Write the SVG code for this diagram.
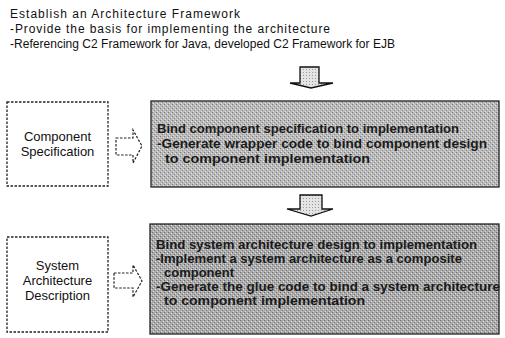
<svg xmlns="http://www.w3.org/2000/svg" width="505" height="338" viewBox="0 0 505 338">
<defs>
<pattern id="tex" width="4" height="4" patternUnits="userSpaceOnUse">
<rect width="4" height="4" fill="#bababa"/>
<rect x="0" y="0" width="1" height="1" fill="#7a7a7a"/>
<rect x="2" y="2" width="1" height="1" fill="#8a8a8a"/>
<rect x="3" y="1" width="1" height="1" fill="#e6e6e6"/>
<rect x="1" y="3" width="1" height="1" fill="#dddddd"/>
</pattern>
<pattern id="tex2" width="4" height="4" patternUnits="userSpaceOnUse">
<rect width="4" height="4" fill="#ababab"/>
<rect x="0" y="0" width="1" height="1" fill="#6a6a6a"/>
<rect x="2" y="2" width="1" height="1" fill="#7a7a7a"/>
<rect x="3" y="1" width="1" height="1" fill="#e0e0e0"/>
<rect x="1" y="3" width="1" height="1" fill="#d6d6d6"/>
</pattern>
<pattern id="texl" width="3" height="3" patternUnits="userSpaceOnUse">
<rect width="3" height="3" fill="#e4e4e4"/>
<rect x="0" y="0" width="1" height="1" fill="#999"/>
</pattern>
</defs>
<style>
text{font-family:"Liberation Sans",Arial,sans-serif;fill:#111}
.h{font-size:12px}
.lbl{font-size:13px;text-anchor:middle}
.bt{font-size:13px;font-weight:bold;fill:#1a1a1a}
.dash{fill:#fff;stroke:#222;stroke-width:1.3;stroke-dasharray:2.5 1.5}
.darr{fill:#fff;stroke:#222;stroke-width:1.2;stroke-dasharray:2.5 1.5}
.arr{fill:url(#texl);stroke:#111;stroke-width:1.3}
</style>
<g id="header">
<text class="h" x="10" y="18" textLength="230" lengthAdjust="spacing">Establish an Architecture Framework</text>
<text class="h" x="10" y="33" textLength="320" lengthAdjust="spacing">-Provide the basis for implementing the architecture</text>
<text class="h" x="10" y="48" textLength="385" lengthAdjust="spacing">-Referencing C2 Framework for Java, developed C2 Framework for EJB</text>
</g>
<g id="connectors">
<path class="arr" d="M300,67 H319 V83 H333 L311,88 L290,83 H300 Z"/>
<path class="arr" d="M300,195 H322 V209 H333 L311,216 L287,209 H300 Z"/>
<path class="darr" d="M116,138 H133 V130 L142,146 L133,163 V155 H116 Z"/>
<path class="darr" d="M114,273 H133 V265 L142,281 L133,297 V288 H114 Z"/>
</g>
<g id="component-spec">
<rect class="dash" x="7" y="102" width="101" height="84"/>
<text class="lbl" x="57.5" y="141">Component</text>
<text class="lbl" x="57.5" y="156">Specification</text>
</g>
<g id="system-arch-desc">
<rect class="dash" x="7" y="237" width="101" height="95"/>
<text class="lbl" x="57.5" y="270">System</text>
<text class="lbl" x="57.5" y="285">Architecture</text>
<text class="lbl" x="57.5" y="300">Description</text>
</g>
<g id="bind-component">
<rect x="151" y="101" width="348" height="86" fill="url(#tex)" stroke="#222" stroke-width="1.3"/>
<text class="bt" x="157" y="133" textLength="302" lengthAdjust="spacingAndGlyphs">Bind component specification to implementation</text>
<text class="bt" x="157" y="148" textLength="330" lengthAdjust="spacingAndGlyphs">-Generate wrapper code to bind component design</text>
<text class="bt" x="165" y="163" textLength="205" lengthAdjust="spacingAndGlyphs">to component implementation</text>
</g>
<g id="bind-system">
<rect x="150" y="224" width="349" height="110" fill="url(#tex2)" stroke="#222" stroke-width="1.3"/>
<text class="bt" x="156" y="249" textLength="321" lengthAdjust="spacingAndGlyphs">Bind system architecture design to implementation</text>
<text class="bt" x="156" y="263" textLength="306" lengthAdjust="spacingAndGlyphs">-Implement a system architecture as a composite</text>
<text class="bt" x="164" y="277">component</text>
<text class="bt" x="156" y="291" textLength="344" lengthAdjust="spacingAndGlyphs">-Generate the glue code to bind a system architecture</text>
<text class="bt" x="164" y="305" textLength="201" lengthAdjust="spacingAndGlyphs">to component implementation</text>
</g>
</svg>
